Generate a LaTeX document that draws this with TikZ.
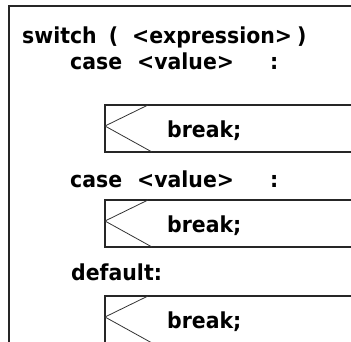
\documentclass[tikz,border=0pt]{standalone}
\usepackage{fontspec}
\setmainfont[FakeStretch=0.93]{DejaVu Sans}
\begin{document}
\begin{tikzpicture}[x=1pt,y=-1pt,
  frame/.style={line width=1.6pt, draw=black!85},
  chev/.style={line width=0.8pt, draw=black!80},
  lbl/.style={anchor=base west, inner sep=0pt, font=\fontsize{22}{26}\selectfont\bfseries}]
\useasboundingbox (0,0) rectangle (351,341);
\clip (0,0) rectangle (351,341);
% outer frame
\draw[frame] (360,6) -- (9,6) -- (9,350);
% case boxes
\foreach \t/\b in {105/152,200/247,296/343} {
  \draw[frame] (360,\t) -- (105,\t) -- (105,\b) -- (360,\b);
  \draw[chev] (148,\t) -- (105,\t+21) -- (152,\b);
}
\node[lbl] (sw) at (22,43) {switch\hspace{12pt}(\hspace{14pt}<expression>\hspace{5pt})};
\node[lbl] (c1) at (70,69) {case\hspace{15pt}<value>\hspace{36pt}:};
\node[lbl] (b1) at (167,137) {break;};
\node[lbl] (c2) at (70,187) {case\hspace{15pt}<value>\hspace{36pt}:};
\node[lbl] (b2) at (167,232) {break;};
\node[lbl] (df) at (71,280) {default:};
\node[lbl] (b3) at (167,328) {break;};
\end{tikzpicture}
\end{document}
